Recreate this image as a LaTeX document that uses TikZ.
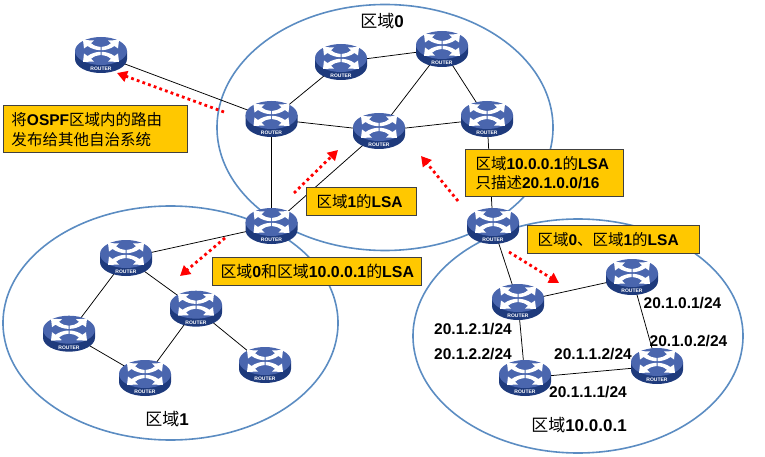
\documentclass[tikz,border=0pt]{standalone}
\usepackage{fontspec}
\setmainfont{Liberation Sans}
\newfontfamily\cjk{Noto Sans CJK SC}
\usetikzlibrary{arrows.meta}
\definecolor{rtop}{HTML}{4A66AE}
\definecolor{rside}{HTML}{1E3A7C}
\definecolor{area}{HTML}{5B8CC2}
\definecolor{boxfill}{HTML}{FFC800}
\newcommand{\zh}[1]{{\cjk\mdseries #1}}
\tikzset{
 x=1pt,y=-1pt,
 areaell/.style={draw=area,line width=1.6pt},
 link/.style={draw=black,line width=0.75pt},
 callout/.style={draw=black!75,line width=1pt,fill=boxfill,inner sep=0pt,font=\fontsize{15.5}{19.5}\selectfont\bfseries,align=left,anchor=north west},
 rtrnode/.style={inner sep=0pt,minimum width=52pt,minimum height=36pt,shape=rectangle},
 lbl/.style={inner sep=0pt,font=\fontsize{15.5}{18}\selectfont\bfseries},
 arealbl/.style={inner sep=0pt,font=\fontsize{17}{20}\selectfont\bfseries},
 lsa/.style={draw=red,line width=2.8pt,dash pattern=on 2.8pt off 3.2pt,-{Triangle[length=10pt,width=11pt,fill=red]}},
}
\newcommand{\rarm}{\fill[white] (18,-11) -- (7,-10.5) -- (10,-7.8) .. controls (7,-5.5) and (4,-4) .. (0.5,-4) -- (0.5,-0.8) .. controls (5,-0.8) and (10,-2.5) .. (13.5,-5) -- (17,-2.5) -- cycle;}
\newcommand{\router}[3]{%
 \begin{scope}[shift={(#2,#3)}]
  \fill[rside] (-26,-4) -- (-26,4) arc[start angle=180,end angle=0,x radius=26,y radius=14] -- (26,-4) -- cycle;
  \fill[rtop] (0,-4) ellipse[x radius=26,y radius=14];
  \begin{scope}[shift={(0,-4)}]
   \rarm
   \begin{scope}[xscale=-1]\rarm\end{scope}
   \begin{scope}[yscale=-1]\rarm\end{scope}
   \begin{scope}[xscale=-1,yscale=-1]\rarm\end{scope}
  \end{scope}
  \node[text=white,inner sep=0pt,font=\fontsize{5}{5}\selectfont\bfseries] (#1lab) at (0,13.7) {ROUTER};
 \end{scope}}
\begin{document}
\begin{tikzpicture}
\useasboundingbox (0,0) rectangle (765,457);
\draw[areaell] (385,127.5) ellipse[x radius=168,y radius=123];
\draw[areaell] (170.5,323) ellipse[x radius=167.5,y radius=117];
\draw[areaell] (578,336) ellipse[x radius=165,y radius=117];
\foreach \n/\x/\y in {ext/101/55,a/271.5/119,b/341/62,c/442/49,d/487/119,e/379/131,abrone/271.5/226,abrtwo/493/226,p/126/258,q/196/308.7,r/69/333.7,s/145/378,t/265/365,u/518/302,v/632/277,w/657/366,z/525/378}
  \node[rtrnode] (\n) at (\x,\y) {};
\foreach \m/\n in {ext/a,a/b,a/e,a/abrone,b/c,c/e,c/d,d/e,d/abrtwo,e/abrone,abrone/p,p/q,p/r,r/s,s/q,q/t,abrtwo/u,u/v,u/z,v/w,z/w}
  \draw[link] (\m.center) -- (\n.center);
\foreach \n/\x/\y in {ext/101/55,a/271.5/119,b/341/62,c/442/49,d/487/119,e/379/131,abrone/271.5/226,abrtwo/493/226,p/126/258,q/196/308.7,r/69/333.7,s/145/378,t/265/365,u/518/302,v/632/277,w/657/366,z/525/378}
  {\router{\n}{\x}{\y}}
\node[callout,minimum width=184pt,minimum height=47pt,text width=168pt,inner xsep=8pt] (boxa) at (3,105.5) {\zh{将}OSPF\zh{区域内的路由}\\\zh{发布给其他自治系统}};
\node[callout,minimum width=108pt,minimum height=28pt,text width=90pt,inner xsep=10pt] (boxb) at (306,187) {\zh{区域}1\zh{的}LSA};
\node[callout,minimum width=209pt,minimum height=28pt,text width=193pt,inner xsep=8pt,font=\fontsize{15.9}{20}\selectfont\bfseries] (boxc) at (212,257) {\zh{区域}0\zh{和区域}10.0.0.1\zh{的}LSA};
\node[callout,minimum width=158pt,minimum height=47pt,text width=138pt,inner xsep=10pt] (boxd) at (465,149) {\zh{区域}10.0.0.1\zh{的}LSA\\\zh{只描述}20.1.0.0/16};
\node[callout,minimum width=172pt,minimum height=28pt,text width=152pt,inner xsep=10pt] (boxe) at (527,225) {\zh{区域}0\zh{、区域}1\zh{的}LSA};
\coordinate (f1) at (224,112); \coordinate (t1) at (117,73);
\coordinate (f2) at (294,193); \coordinate (t2) at (338,150);
\coordinate (f3) at (225,238); \coordinate (t3) at (180,276);
\coordinate (f4) at (458,201); \coordinate (t4) at (421,156);
\coordinate (f5) at (509,252); \coordinate (t5) at (559,283);
\foreach \i in {1,...,5} \draw[lsa] (f\i) -- (t\i);
\node[arealbl] (la0) at (382,21) {\zh{区域}0};
\node[arealbl] (la1) at (167,419) {\zh{区域}1};
\node[arealbl] (la2) at (579,425) {\zh{区域}10.0.0.1};
\node[lbl] (l1) at (682.5,303) {20.1.0.1/24};
\node[lbl] (l2) at (688.5,341) {20.1.0.2/24};
\node[lbl] (l3) at (473,329) {20.1.2.1/24};
\node[lbl] (l4) at (473,354) {20.1.2.2/24};
\node[lbl] (l5) at (593,354) {20.1.1.2/24};
\node[lbl] (l6) at (588,392) {20.1.1.1/24};
\end{tikzpicture}
\end{document}
